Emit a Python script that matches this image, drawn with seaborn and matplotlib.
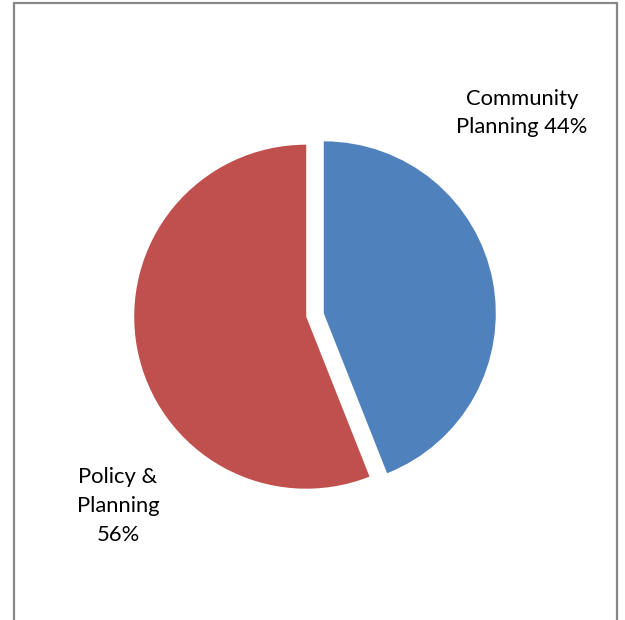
import seaborn as sns
from matplotlib import pyplot as plt
from matplotlib.patches import Rectangle

# Data
categories = ["Community Planning", "Policy & Planning"]
shares = [44, 56]
labels = ["Community\nPlanning 44%", "Policy &\nPlanning\n56%"]
colors = ["#4F81BD", "#C0504D"]

sns.set_style("white")
plt.rcParams["font.family"] = ["Lato", "DejaVu Sans"]

W, H = 625, 620
fig = plt.figure(figsize=(W / 100, H / 100), dpi=100)
ax = fig.add_axes([0, 0, 1, 1])

# pie centre and radius in pixels
cx, cy, r = 315, 315, 172

wedges, _ = ax.pie(shares, colors=colors, startangle=90, counterclock=False,
                   explode=[0.052, 0.052], radius=1,
                   wedgeprops=dict(linewidth=0))

ax.set_xlim(-cx / r, (W - cx) / r)
ax.set_ylim((cy - H) / r, cy / r)
ax.set_aspect("auto")
ax.axis("off")

ax.text((522 - cx) / r, (cy - 113) / r, labels[0], ha="center", va="center",
        fontsize=15.8, linespacing=1.55, color="black")
ax.text((118 - cx) / r, (cy - 506) / r, labels[1], ha="center", va="center",
        fontsize=15.8, linespacing=1.55, color="black")

# chart frame (bottom edge is cut off in the original)
fig.patches.append(Rectangle((13.5 / W, -0.1), (616.5 - 13.5) / W, 1.1 - 3.5 / H,
                             transform=fig.transFigure, fill=False,
                             edgecolor="#878787", linewidth=1.6))

fig.savefig("out.png", dpi=100)
